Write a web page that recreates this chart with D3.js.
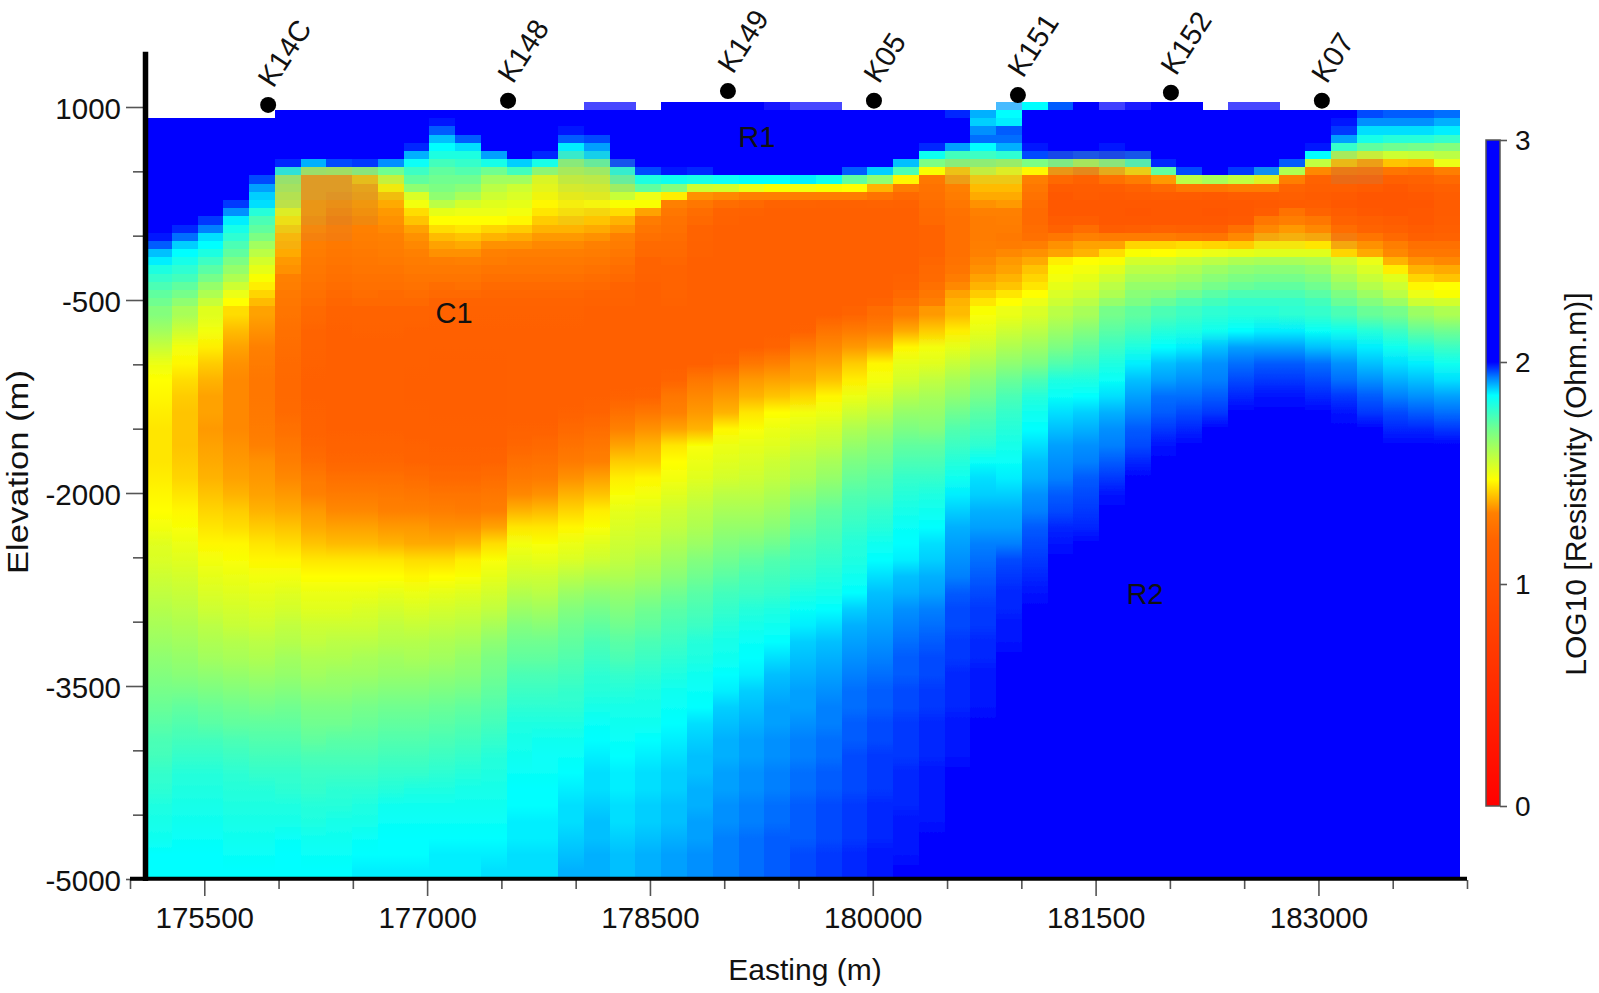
<!DOCTYPE html>
<html>
<head>
<meta charset="utf-8">
<title>Resistivity section</title>
<script src="https://cdn.jsdelivr.net/npm/d3@7"></script>
<style>
  html, body { margin: 0; padding: 0; background: #fff; }
  text { font-family: "Liberation Sans", Arial, sans-serif; fill: #111; }
</style>
</head>
<body>
<svg id="chart" width="1599" height="993"></svg>
<script>
// Axis ticks
var xMajorTicks = [175500, 177000, 178500, 180000, 181500, 183000];
var xMinorTicks = [175000, 176000, 176500, 177500, 178000, 179000, 179500, 180500, 181000, 182000, 182500, 183500, 184000];
var yMajorTicks = [1000, -500, -2000, -3500, -5000];
var yMinorTicks = [500, 0, -1000, -1500, -2500, -3000, -4000, -4500];
var colorTicks = [0, 1, 2, 3];

// Colour bar (log10 ohm.m -> colour)
var colorDomain = [0, 1.0, 1.2, 1.32, 1.47, 1.7, 1.85, 1.93, 2.0, 3];
var colorRange = ["#ff0000", "#ff5200", "#ff6400", "#ff8000", "#ffff00", "#70ff90", "#00ffff", "#0080ff", "#0000ff", "#0000ff"];

// Stations along the profile
var wellNames = ["K14C", "K148", "K149", "K05", "K151", "K152", "K07"];
var wellEast = [175930, 177545, 179025, 180008, 180977, 182007, 183023];
var wellElev = [1016, 1049, 1124, 1049, 1093, 1111, 1049];

// Labelled bodies
var bodyNames = ["R1", "C1", "R2"];
var bodyEast = [179220, 177181, 181832];
var bodyElev = [689, -679, -2863];

// Model mesh: 51 columns; 24 thin rows under the surface, then 35 thick ones
var meshEastStart = 175108, meshEastStep = 173.4;
var meshTop = 977, thinStep = 63.6, thinRows = 24;

// Cells that stick out above the mesh top, one per column
var topCells = [null,null,null,null,null,null,null,null,null,null,null,null,null,null,null,null,null,
  205,205,null,205,205,205,205,205,205,205,null,null,null,null,null,null,
  191,185,195,205,205,205,205,205,null,205,205,null,null,null,null,null,null,null];

// log10 resistivity x 100, one list per column, top to bottom
var col00 = [null,205,205,205,205,205,205,205,205,205,205,205,205,205,205,199,195,189,186,181,178,175,172,170,
  167,162,156,150,147,146,145,144,144,144,145,146,147,149,152,153,155,157,159,161,163,165,167,169,171,173,175,176,178,179,181,182,183,185,185];
var col01 = [null,205,205,205,205,205,205,205,205,205,205,205,205,205,198,194,188,185,182,179,176,172,169,165,
  161,155,149,146,143,141,140,140,140,141,142,144,146,148,150,152,154,156,158,160,162,164,166,169,172,174,176,178,180,181,182,183,184,185,185];
var col02 = [null,205,205,205,205,205,205,205,205,205,205,205,205,197,193,187,185,181,177,173,169,164,160,156,
  152,149,145,141,138,136,136,135,136,137,138,140,142,144,146,149,151,153,155,158,160,162,165,168,171,173,176,178,180,181,182,183,184,185,185];
var col03 = [null,205,205,205,205,205,205,205,205,205,205,197,192,186,182,179,175,172,168,164,160,155,150,147,
  143,139,136,134,133,133,133,133,134,135,136,138,141,143,146,148,150,152,154,156,159,161,164,167,170,172,175,177,179,180,181,182,183,184,185];
var col04 = [null,205,205,205,205,205,205,205,196,191,188,187,180,175,172,168,162,158,154,151,148,145,142,139,
  136,134,132,130,128,128,129,130,132,134,135,136,138,141,144,146,149,151,153,155,158,160,163,166,169,172,174,176,178,180,181,182,183,184,185];
var col05 = [205,205,205,205,205,205,198,183,163,160,157,155,150,145,142,139,138,137,135,134,132,131,129,128,
  127,125,124,123,122,122,123,125,128,131,133,135,137,140,143,146,149,152,154,157,159,162,164,167,170,172,174,176,178,179,181,182,184,185,185];
var col06 = [205,205,205,205,205,205,190,162,136,136,136,135,135,134,133,132,131,130,129,128,127,126,125,124,
  122,120,119,118,117,117,118,119,121,124,129,132,135,137,140,144,147,150,152,155,157,160,162,165,168,170,172,175,177,178,180,181,183,184,185];
var col07 = [205,205,205,205,205,205,196,161,136,136,135,134,133,132,131,130,129,128,127,126,125,124,122,121,
  119,117,116,115,115,115,116,117,119,121,125,130,133,136,139,144,147,150,152,155,158,160,163,165,168,170,173,175,177,179,180,182,183,184,185];
var col08 = [205,205,205,205,205,205,197,166,141,137,136,135,134,133,132,131,130,129,128,127,126,125,124,122,
  120,118,116,115,115,115,116,117,119,121,125,130,133,136,139,144,147,150,153,155,158,161,163,166,169,171,173,175,177,179,181,182,184,185,186];
var col09 = [205,205,205,205,205,205,192,170,155,146,140,137,135,134,133,132,131,130,129,127,126,125,123,122,
  120,118,116,115,115,115,115,117,119,121,125,129,132,135,138,144,147,151,154,157,159,162,164,167,170,172,174,176,178,180,183,184,185,185,186];
var col10 = [205,205,205,205,198,190,184,177,172,165,153,149,143,140,136,134,133,132,130,129,127,126,124,122,
  120,117,116,115,114,114,115,116,118,120,124,128,132,135,137,143,146,150,153,156,159,161,164,167,170,172,174,176,178,181,183,184,185,185,186];
var col11 = [205,199,195,189,185,181,176,172,170,168,165,158,151,147,143,139,136,134,131,129,127,124,122,120,
  118,117,115,114,113,113,114,115,117,119,122,127,131,134,137,143,147,151,154,157,160,162,165,168,171,173,175,177,179,181,183,184,185,186,186];
var col12 = [205,205,205,195,187,181,178,174,170,166,161,154,150,147,144,140,137,134,132,129,127,125,122,120,
  118,117,116,114,113,113,114,115,117,119,122,127,130,134,138,145,148,152,155,158,161,164,166,169,172,174,176,178,180,182,183,184,185,186,186];
var col13 = [205,205,205,205,205,191,182,170,162,158,155,152,150,147,142,138,134,132,130,127,125,123,121,119,
  118,117,116,114,113,113,114,115,117,120,124,128,131,136,143,148,151,154,157,161,165,168,170,172,174,176,178,180,181,182,183,184,185,186,187];
var col14 = [205,205,205,205,205,203,188,176,162,155,153,151,149,146,141,137,134,131,129,127,125,123,121,119,
  118,117,116,115,115,115,116,118,121,125,129,133,138,144,149,152,155,159,163,167,170,172,175,177,179,181,182,183,184,185,185,186,186,187,187];
var col15 = [205,205,205,205,205,198,182,165,152,150,148,146,144,141,138,135,133,131,129,127,125,123,121,119,
  118,117,116,115,115,115,116,118,122,126,130,134,139,144,148,151,155,158,162,166,170,172,175,177,179,181,183,184,184,185,185,186,186,187,187];
var col16 = [205,205,199,195,186,180,166,160,155,151,148,146,144,141,138,135,133,131,129,127,125,123,121,119,
  118,117,116,115,115,116,118,122,126,130,134,138,142,146,150,153,158,163,167,170,172,174,176,178,179,181,183,184,185,186,187,187,188,189,190];
var col17 = [205,205,205,196,191,187,172,162,156,152,149,147,143,140,137,134,132,130,128,126,124,122,120,118,
  117,116,115,115,115,117,120,124,128,132,136,140,145,148,152,155,160,165,169,172,175,177,179,180,182,184,185,186,187,187,188,189,189,190,190];
var col18 = [205,205,205,205,205,205,196,180,172,162,156,148,143,138,135,132,130,128,126,124,122,120,119,118,
  117,116,115,115,115,118,125,132,136,141,145,148,151,153,155,157,160,164,167,170,173,175,178,180,182,183,184,185,186,186,187,187,188,189,189];
var col19 = [205,205,205,205,205,205,205,196,181,172,150,148,136,130,127,125,123,122,120,119,118,117,116,116,
  116,115,115,115,115,119,128,134,138,141,146,149,152,154,156,159,162,166,170,172,175,177,179,181,182,183,185,186,187,187,188,188,189,190,190];
var col20 = [205,205,205,205,205,205,205,199,183,167,145,132,128,126,125,124,123,122,121,120,120,119,119,118,
  117,116,115,115,120,128,132,136,144,147,149,152,155,157,160,163,166,170,173,175,177,179,181,183,184,185,186,187,188,188,189,189,190,191,191];
var col21 = [205,205,205,205,205,205,205,198,182,155,134,128,124,122,120,119,118,118,117,117,116,116,115,115,
  115,115,115,115,128,133,135,138,148,150,152,155,158,160,163,167,170,173,175,177,180,181,183,184,185,187,188,189,189,190,190,191,191,192,192];
var col22 = [205,205,205,205,205,205,205,205,184,154,133,124,120,118,117,116,116,115,115,115,115,115,115,115,
  115,115,115,120,132,135,138,146,150,152,154,158,161,164,167,170,173,176,178,180,182,183,185,186,188,189,190,190,191,191,192,192,193,193,193];
var col23 = [205,205,205,205,205,205,205,205,185,150,131,122,118,116,115,115,115,115,115,115,115,115,115,115,
  115,115,115,128,135,138,144,148,151,153,155,158,161,164,168,172,175,177,180,182,184,185,186,188,189,190,191,191,192,192,193,193,194,194,194];
var col24 = [205,205,205,205,205,205,205,205,185,148,131,120,117,116,115,115,115,115,115,115,115,115,115,115,
  115,115,120,132,136,140,147,150,152,155,157,160,163,166,170,174,176,178,181,183,185,187,189,190,191,191,192,192,193,193,194,194,195,195,195];
var col25 = [205,205,205,205,205,205,205,205,186,149,130,119,116,115,115,115,115,115,115,115,115,115,115,115,
  115,118,130,135,137,142,149,152,155,158,160,164,168,171,174,176,178,181,184,186,188,189,190,191,191,192,193,193,194,194,195,195,195,196,196];
var col26 = [205,205,205,205,205,205,205,205,183,148,130,118,116,115,115,115,115,115,115,115,115,115,115,115,
  115,127,133,136,140,146,150,154,157,161,164,168,172,174,176,178,180,182,185,187,189,190,191,192,193,193,194,194,195,195,196,196,196,197,197];
var col27 = [205,205,205,205,205,205,205,195,172,147,130,118,116,115,115,115,115,115,115,115,115,115,115,115,
  120,130,135,141,145,150,155,160,164,168,171,174,176,178,180,181,183,185,188,190,191,192,193,194,194,195,195,196,196,196,197,197,197,198,198];
var col28 = [205,205,205,205,205,205,205,188,165,138,126,120,117,116,115,115,115,115,115,115,115,116,117,119,
  124,132,137,146,149,153,158,163,167,170,173,175,178,180,183,185,187,189,190,191,192,193,194,195,195,196,196,197,197,197,198,198,198,199,199];
var col29 = [205,205,205,205,205,205,189,175,146,130,122,118,116,115,115,115,115,115,116,117,118,120,122,125,
  130,137,146,151,154,159,164,168,172,175,178,180,182,184,185,186,189,190,192,193,194,195,195,196,196,197,197,197,198,198,198,199,199,199,200];
var col30 = [205,205,205,205,198,183,168,148,128,126,125,124,123,122,120,120,120,120,121,122,123,125,128,131,
  135,141,149,152,157,161,164,167,172,175,178,181,183,185,187,188,190,191,193,194,195,196,196,197,197,198,198,198,199,199,199,199,200,200,200];
var col31 = [198,205,205,205,191,176,166,141,136,132,130,128,126,125,125,125,125,125,126,127,130,133,136,138,
  139,145,151,156,161,165,170,174,177,180,183,186,188,190,191,192,193,195,196,196,197,197,198,198,198,199,199,199,200,200,200,201,202,203,205];
var col32 = [190,188,192,194,185,177,165,155,142,139,137,134,132,130,130,130,131,132,133,134,136,138,141,144,
  148,151,155,160,165,169,173,176,179,184,187,188,190,191,193,194,195,196,197,197,198,198,199,199,199,200,200,201,203,205,205,205,205,205,205];
var col33 = [185,186,195,194,190,179,163,150,142,139,137,135,132,131,130,129,130,133,135,136,138,140,144,147,
  150,155,160,165,171,175,178,180,182,184,186,188,190,191,193,196,197,198,198,199,199,200,201,203,205,205,205,205,205,205,205,205,205,205,205];
var col34 = [205,205,205,205,199,196,168,146,131,128,126,124,123,123,124,125,131,134,137,140,142,144,147,150,
  153,158,163,168,175,180,183,185,187,189,190,192,193,195,196,197,198,199,200,201,201,202,203,205,205,205,205,205,205,205,205,205,205,205,205];
var col35 = [205,205,205,205,205,197,168,135,122,110,108,107,107,110,118,128,134,136,145,148,149,151,153,155,
  158,163,168,174,181,184,187,189,191,192,193,195,196,198,199,200,201,202,203,204,205,205,205,205,205,205,205,205,205,205,205,205,205,205,205];
var col36 = [205,205,205,205,205,196,160,133,118,112,110,108,108,112,124,132,136,138,147,149,151,153,155,158,
  161,167,172,176,181,185,188,190,192,193,195,196,197,198,200,202,203,204,205,205,205,205,205,205,205,205,205,205,205,205,205,205,205,205,205];
var col37 = [205,205,205,205,199,197,166,138,125,112,109,107,107,108,112,130,136,143,148,152,155,158,160,164,
  169,173,177,181,184,187,190,192,193,195,197,199,200,202,204,205,205,205,205,205,205,205,205,205,205,205,205,205,205,205,205,205,205,205,205];
var col38 = [205,205,205,205,205,196,175,143,130,118,110,108,106,108,113,130,142,148,154,158,161,164,166,168,
  172,176,181,186,189,191,193,195,196,198,200,203,205,205,205,205,205,205,205,205,205,205,205,205,205,205,205,205,205,205,205,205,205,205,205];
var col39 = [205,205,205,205,205,205,198,172,135,122,112,108,107,108,118,130,142,147,154,158,161,164,167,171,
  175,180,185,189,191,194,195,197,199,202,205,205,205,205,205,205,205,205,205,205,205,205,205,205,205,205,205,205,205,205,205,205,205,205,205];
var col40 = [205,205,205,205,205,205,205,196,158,128,110,108,107,108,115,128,143,149,156,160,163,166,170,174,
  177,181,186,190,192,194,196,198,201,205,205,205,205,205,205,205,205,205,205,205,205,205,205,205,205,205,205,205,205,205,205,205,205,205,205];
var col41 = [205,205,205,205,205,205,205,205,161,128,109,107,106,108,113,127,142,150,158,163,166,169,173,176,
  179,183,189,192,193,195,197,200,204,205,205,205,205,205,205,205,205,205,205,205,205,205,205,205,205,205,205,205,205,205,205,205,205,205,205];
var col42 = [205,205,205,205,205,205,205,197,157,130,112,108,107,109,125,133,141,151,160,165,168,171,175,178,
  180,185,191,194,196,198,200,203,205,205,205,205,205,205,205,205,205,205,205,205,205,205,205,205,205,205,205,205,205,205,205,205,205,205,205];
var col43 = [205,205,205,205,205,205,205,192,150,130,112,109,112,128,133,137,145,152,161,166,169,172,175,178,
  180,186,191,195,197,199,202,205,205,205,205,205,205,205,205,205,205,205,205,205,205,205,205,205,205,205,205,205,205,205,205,205,205,205,205];
var col44 = [205,205,205,205,205,205,195,160,131,120,113,110,126,131,135,138,145,152,161,166,169,172,175,178,
  179,186,191,195,197,199,202,205,205,205,205,205,205,205,205,205,205,205,205,205,205,205,205,205,205,205,205,205,205,205,205,205,205,205,205];
var col45 = [205,205,205,205,199,185,157,133,118,113,110,112,120,128,133,137,144,152,160,164,167,170,173,176,
  178,184,189,194,196,198,201,205,205,205,205,205,205,205,205,205,205,205,205,205,205,205,205,205,205,205,205,205,205,205,205,205,205,205,205];
var col46 = [200,199,197,191,178,160,140,128,120,113,109,108,112,118,124,130,137,142,155,158,161,164,168,171,
  175,183,188,192,194,197,199,203,205,205,205,205,205,205,205,205,205,205,205,205,205,205,205,205,205,205,205,205,205,205,205,205,205,205,205];
var col47 = [196,192,187,182,172,154,136,127,118,110,106,105,108,113,120,127,134,137,150,153,156,159,163,167,
  171,180,186,189,192,195,197,200,204,205,205,205,205,205,205,205,205,205,205,205,205,205,205,205,205,205,205,205,205,205,205,205,205,205,205];
var col48 = [195,192,187,180,170,155,140,127,117,108,105,104,106,110,115,122,131,133,138,145,152,155,158,163,
  169,177,183,187,190,193,196,198,201,205,205,205,205,205,205,205,205,205,205,205,205,205,205,205,205,205,205,205,205,205,205,205,205,205,205];
var col49 = [195,192,187,180,169,156,139,125,118,112,108,106,107,108,110,115,125,128,134,138,142,146,150,155,
  163,172,180,186,189,192,195,198,200,204,205,205,205,205,205,205,205,205,205,205,205,205,205,205,205,205,205,205,205,205,205,205,205,205,205];
var col50 = [194,190,186,178,167,158,150,131,122,115,112,110,110,112,113,118,125,128,133,137,140,147,148,154,
  160,170,177,183,187,191,194,197,200,203,205,205,205,205,205,205,205,205,205,205,205,205,205,205,205,205,205,205,205,205,205,205,205,205,205];

var columns = [col00,col01,col02,col03,col04,col05,col06,col07,col08,col09,col10,col11,col12,col13,col14,col15,col16,
  col17,col18,col19,col20,col21,col22,col23,col24,col25,col26,col27,col28,col29,col30,col31,col32,col33,
  col34,col35,col36,col37,col38,col39,col40,col41,col42,col43,col44,col45,col46,col47,col48,col49,col50];

// Washed out cells near the surface: [column, first row, last row, amount]; row -1 is the top cells
var fadedCells = [[17,-1,-1,.28],[18,-1,-1,.28],[24,-1,-1,.08],[25,-1,-1,.28],[26,-1,-1,.28],[33,-1,-1,.28],[37,-1,-1,.25],[38,-1,-1,.12],[42,-1,-1,.28],[43,-1,-1,.28],
  [5,7,11,.25],[5,12,14,.15],[5,15,16,.07],[6,7,10,.28],[6,11,13,.18],[6,14,15,.08],[7,7,10,.28],[7,11,13,.18],[7,14,15,.08],
  [8,7,10,.22],[8,11,13,.12],[9,8,10,.12],[15,7,10,.08],[16,5,10,.18],[16,11,13,.08],[17,5,10,.18],[17,11,12,.08],[18,6,9,.15],
  [31,6,8,.15],[32,6,8,.15],[33,6,8,.15],[35,5,7,.18],[36,5,7,.22],[37,5,7,.22],[38,5,7,.18],
  [43,7,8,.12],[43,15,16,.08],[44,15,16,.08],[45,15,15,.08],[46,5,8,.18],[46,15,16,.08],[47,5,8,.15]];

var svg = d3.select("#chart");
var defs = svg.append("defs");

var x = d3.scaleLinear().domain([175000, 184000]).range([130, 1467]);
var y = d3.scaleLinear().domain([1000, -5000]).range([107, 879]);
var colorValue = d3.scaleLinear().domain(colorDomain).range(colorRange);
var colorY = d3.scaleLinear().domain([0, 3]).range([806, 140]);

// Elevation of the top of a row (row -1 sits above the mesh)
var rowTop = function (row) {
  if (row <= thinRows)
    return meshTop - thinStep * row;
  return meshTop - thinStep * thinRows - 2 * thinStep * (row - thinRows);
};

var fadeOf = function (col, row) {
  var hit = fadedCells.find(function (f) {
    return f[0] === col && row >= f[1] && row <= f[2];
  });
  return hit ? hit[3] : 0;
};

var cells = [];
columns.forEach(function (values, col) {
  if (topCells[col] !== null)
    cells.push({col: col, row: -1, value: topCells[col]});
  values.forEach(function (v, row) {
    if (v !== null)
      cells.push({col: col, row: row, value: v});
  });
});

defs.append("filter").attr("id", "soft")
  .attr("x", "-2%").attr("y", "-2%").attr("width", "104%").attr("height", "104%")
  .append("feGaussianBlur").attr("stdDeviation", 0.6);

// The thick rows are shaded down each column so they read as smooth, like the source plot
var deepY0 = y(rowTop(thinRows));
var deepY1 = y(rowTop(columns[0].length));
columns.forEach(function (values, col) {
  var grad = defs.append("linearGradient").attr("id", "deep" + col)
    .attr("gradientUnits", "userSpaceOnUse")
    .attr("x1", 0).attr("x2", 0).attr("y1", deepY0).attr("y2", deepY1);
  grad.selectAll("stop").data(values.slice(thinRows)).enter().append("stop")
    .attr("offset", function (d, i) {
      var mid = (y(rowTop(thinRows + i)) + y(rowTop(thinRows + i + 1))) / 2;
      return (mid - deepY0) / (deepY1 - deepY0);
    })
    .attr("stop-color", function (d) { return colorValue(d / 100); });
});

// Section
svg.append("g").attr("filter", "url(#soft)")
  .selectAll("rect").data(cells).enter().append("rect")
  .attr("shape-rendering", "crispEdges")
  .attr("x", function (d) { return x(meshEastStart + d.col * meshEastStep); })
  .attr("y", function (d) { return y(rowTop(d.row)); })
  .attr("width", function (d) { return x(meshEastStart + (d.col + 1) * meshEastStep) - x(meshEastStart + d.col * meshEastStep) + 0.5; })
  .attr("height", function (d) { return y(rowTop(d.row + 1)) - y(rowTop(d.row)) + 0.5; })
  .attr("fill", function (d) {
    if (d.row >= thinRows)
      return "url(#deep" + d.col + ")";
    return d3.interpolateRgb(colorValue(d.value / 100), d.row < 0 ? "#ffffff" : "#888888")(fadeOf(d.col, d.row));
  });

// Axes
var styleTicks = function (g) {
  g.select(".domain").remove();
  g.selectAll("line").attr("stroke", "#555").attr("stroke-width", 1.6);
  g.selectAll("text").attr("font-size", 29.5).attr("fill", "#111");
};
var plainNumber = function (d) { return String(d); };

svg.append("g").attr("transform", "translate(143,0)")
  .call(d3.axisLeft(y).tickValues(yMajorTicks).tickSize(17).tickPadding(5).tickFormat(plainNumber))
  .call(styleTicks)
  .selectAll("text").attr("dy", "0.38em");
svg.append("g").attr("transform", "translate(143,0)")
  .call(d3.axisLeft(y).tickValues(yMinorTicks).tickSize(10).tickFormat(""))
  .call(styleTicks);
svg.append("g").attr("transform", "translate(0,880)")
  .call(d3.axisBottom(x).tickValues(xMajorTicks).tickSize(16).tickPadding(5).tickFormat(plainNumber))
  .call(styleTicks)
  .selectAll("text").attr("dy", "0.9em");
svg.append("g").attr("transform", "translate(0,880)")
  .call(d3.axisBottom(x).tickValues(xMinorTicks).tickSize(9).tickFormat(""))
  .call(styleTicks);

// Heavy axis lines
svg.append("line").attr("x1", 145.5).attr("x2", 145.5).attr("y1", y(1430)).attr("y2", 881)
  .attr("stroke", "#000").attr("stroke-width", 5.5);
svg.append("line").attr("x1", x(175000)).attr("x2", x(184000)).attr("y1", 878.8).attr("y2", 878.8)
  .attr("stroke", "#000").attr("stroke-width", 4);

svg.append("text").attr("x", 805).attr("y", 980).attr("text-anchor", "middle")
  .attr("font-size", 30).text("Easting (m)");
svg.append("text").attr("transform", "translate(28,472) rotate(-90)").attr("text-anchor", "middle")
  .attr("font-size", 30).attr("textLength", 204).attr("lengthAdjust", "spacingAndGlyphs").text("Elevation (m)");

// Stations
svg.append("g").selectAll("circle").data(wellNames).enter().append("circle")
  .attr("cx", function (d, i) { return x(wellEast[i]); })
  .attr("cy", function (d, i) { return y(wellElev[i]); })
  .attr("r", 8).attr("fill", "#000");
svg.append("g").selectAll("text").data(wellNames).enter().append("text")
  .attr("transform", function (d, i) {
    return "translate(" + (x(wellEast[i]) + 5) + "," + (y(wellElev[i]) - 16) + ") rotate(-57)";
  })
  .attr("font-size", 29).text(function (d) { return d; });

// Body labels
svg.append("g").selectAll("text").data(bodyNames).enter().append("text")
  .attr("x", function (d, i) { return x(bodyEast[i]); })
  .attr("y", function (d, i) { return y(bodyElev[i]); })
  .attr("text-anchor", "middle").attr("font-size", 29).text(function (d) { return d; });

// Colour bar
var barGrad = defs.append("linearGradient").attr("id", "bar")
  .attr("x1", 0).attr("x2", 0).attr("y1", 1).attr("y2", 0);
barGrad.selectAll("stop").data(colorDomain).enter().append("stop")
  .attr("offset", function (d) { return d / 3; })
  .attr("stop-color", function (d, i) { return colorRange[i]; });
svg.append("rect").attr("x", 1486).attr("y", colorY(3)).attr("width", 14).attr("height", colorY(0) - colorY(3))
  .attr("fill", "url(#bar)").attr("stroke", "#555").attr("stroke-width", 1.5);
svg.append("g").attr("transform", "translate(1500,0)")
  .call(d3.axisRight(colorY).tickValues(colorTicks).tickSize(7).tickPadding(8).tickFormat(plainNumber))
  .call(function (g) {
    styleTicks(g);
    g.selectAll("text").attr("font-size", 28).attr("dy", "0.35em");
  });
svg.append("text").attr("transform", "translate(1586,484) rotate(-90)").attr("text-anchor", "middle")
  .attr("font-size", 30).text("LOG10 [Resistivity (Ohm.m)]");
</script>
</body>
</html>
